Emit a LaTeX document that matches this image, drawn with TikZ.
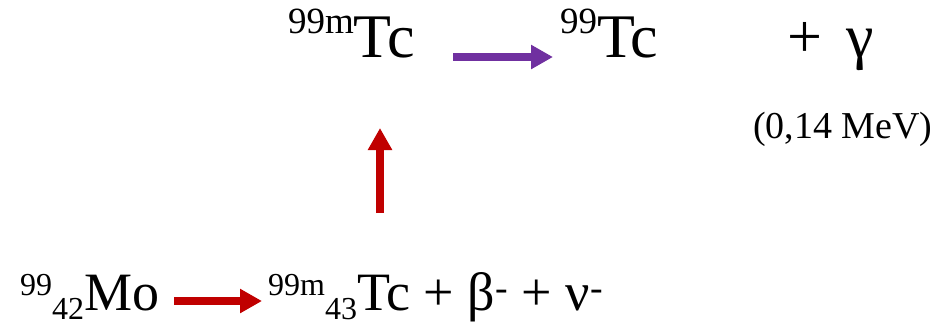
\documentclass[tikz,border=0pt]{standalone}
\usepackage{fontspec}
\setmainfont{Liberation Serif}
\usetikzlibrary{arrows.meta}
\newcommand{\fsz}[1]{\fontsize{#1}{#1}\selectfont}
\newcommand{\up}[3][32]{\raisebox{#2pt}{\fsz{#1}#3}}
\newcommand{\dn}[2]{\raisebox{-#1pt}{\fsz{32}#2}}
\begin{document}
\begin{tikzpicture}[x=1pt,y=-1pt,
  every node/.style={inner sep=0pt,anchor=base west},
  big/.style={font=\fsz{62}},
  mid/.style={font=\fsz{54}},
  small/.style={font=\fsz{38}},
  fat/.style={line width=8pt,-{Triangle[length=22pt,width=23pt]}},
  redarrow/.style={fat,draw={rgb,255:red,192;green,0;blue,0}},
  purplearrow/.style={fat,draw={rgb,255:red,112;green,48;blue,160}}]
\useasboundingbox (0,0) rectangle (941,325);
% top row
\node[big] (tcmtop) at (288,57) {\up[37]{24}{99m}Tc};
\node[big] (tc) at (560,57) {\up[37]{24}{99}Tc};
\node[big] (gamma) at (787,57) {+\hspace{24pt}γ};
\node[small] (energy) at (753,138) {(0,14 MeV)};
% bottom row
\node[mid] (mo) at (20,310) {\up{15}{99}\dn{9}{42}Mo};
\node[mid] (tcm) at (268,310) {\up{15}{99m}\dn{9}{43}Tc + β\textsuperscript{-} + ν\textsuperscript{-}};
\coordinate (up0) at (380,213);
\coordinate (up1) at (380,128);
\draw[purplearrow] ([xshift=38pt]tcmtop.base east) -- ([xshift=-7pt]tc.base west);
\draw[redarrow] ([xshift=15pt,yshift=9pt]mo.base east) -- ([xshift=-6pt,yshift=9pt]tcm.base west);
\draw[redarrow] (up0) -- (up1);
\end{tikzpicture}
\end{document}
